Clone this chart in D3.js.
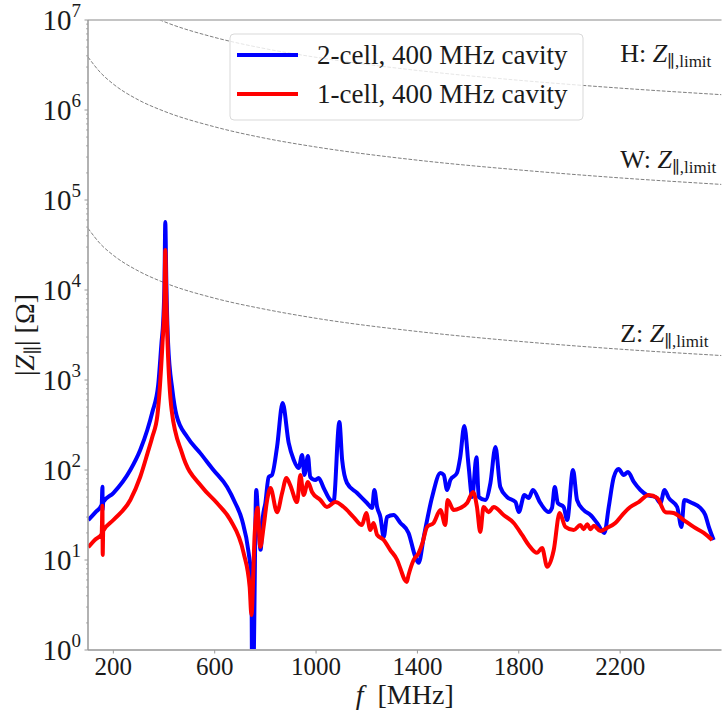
<!DOCTYPE html>
<html>
<head>
<meta charset="utf-8">
<script src="https://d3js.org/d3.v7.min.js"></script>
<style>
  body { margin: 0; background: #fff; }
  text { font-family: "Liberation Serif", "DejaVu Serif", serif; fill: #1a1a1a; }
</style>
</head>
<body>
<svg width="722" height="711"></svg>
<script>
  // |Z| [Ohm] vs f [MHz]
  var cavity2cell = [[101,27.8],[130,34],[154,41],[157,65],[158,36],[160,44],[200,55.5],[267,100],[306,167],[334,278],
    [354,441],[377,880],[390,2580],[397,4640],[402,12900],[405,57000],[409,12900],[416,2580],[433,774],[449,408],
    [491,234],[543,154],[595,100],[649,64.7],[681,43],[708,27.8],[734,12],[745,6],[748,0.3],[752,0.4],
    [764,60],[772,28],[781,13],[790,30],[800,43],[813,83.6],[826,88],[846,180],[868,555],[892,200],
    [912,129],[931,105],[945,147],[954,88],[968,143],[977,83.6],[997,77.4],[1010,81.5],[1030,63.1],[1056,46.4],
    [1069,44.1],[1092,342],[1103,129],[1122,71.7],[1162,55.5],[1201,43],[1221,37.8],[1230,60],[1241,38.8],[1254,30],
    [1267,18],[1280,30],[1306,31.6],[1333,25.8],[1365,20],[1392,10.8],[1405,9.3],[1425,18],[1458,50.1],[1491,92.6],
    [1504,88],[1517,60],[1530,77.4],[1556,92.6],[1569,139],[1585,308],[1602,111],[1616,50.1],[1633,139],[1642,50.1],
    [1668,46.4],[1688,71.7],[1708,180],[1727,64.7],[1754,50.1],[1787,44.1],[1800,34.1],[1822,52.7],[1839,48.9],[1856,60],
    [1885,43],[1918,34.1],[1931,37.8],[1942,64.7],[1954,43],[1977,38.8],[1991,27.8],[2014,100],[2030,46.4],[2056,35.9],
    [2083,31.6],[2109,25.8],[2138,20],[2155,38.8],[2175,83.6],[2194,102.6],[2214,88],[2231,95],[2254,73.6],[2280,60],
    [2306,52.7],[2339,50.1],[2359,43],[2375,60],[2392,48.9],[2425,38.8],[2442,23.3],[2453,46.4],[2484,43],[2517,37.8],
    [2536,31.6],[2550,23.3],[2569,16.7]];

  var cavity1cell = [[101,13.9],[130,17],[154,19.5],[157,40],[158,11.4],[160,21],[200,27.8],[267,46.4],[306,83.6],[335,154],
    [354,234],[374,408],[394,2580],[402,7740],[405,27800],[409,7740],[414,2580],[430,464],[471,154],[550,64.7],
    [609,43],[662,27.8],[714,12],[738,5],[745,2.45],[758,20],[769,38],[780,14],[793,23.3],[807,46.4],
    [820,63],[846,34],[866,55.5],[883,81.5],[898,68],[925,44],[938,88],[951,52.7],[968,73.6],[984,57],
    [1017,46.4],[1043,38.8],[1076,44],[1109,38.8],[1148,30],[1181,24.5],[1198,33.3],[1214,21.5],[1227,25.8],[1241,19],
    [1267,16.7],[1293,12.9],[1320,10],[1333,8],[1350,6],[1358,5.7],[1365,6.8],[1385,10],[1405,12],[1420,15.5],
    [1438,23.3],[1464,25.8],[1491,35.9],[1510,24.5],[1519,46.4],[1543,35.9],[1569,37.8],[1596,43],[1620,57],[1635,38.8],
    [1648,20.5],[1661,38.8],[1681,34],[1701,38.8],[1740,31.6],[1780,25.8],[1813,19],[1839,14.7],[1872,12],[1892,13.6],
    [1912,8.4],[1938,12.9],[1961,33.3],[1984,23.3],[2017,21.5],[2043,24.5],[2056,22],[2070,25],[2083,22],[2096,24],
    [2122,21],[2148,22.7],[2181,25.8],[2208,31.6],[2240,38.8],[2273,44],[2313,52.7],[2346,48.9],[2379,34],[2411,33.3],
    [2451,27.8],[2490,23.3],[2530,20],[2563,16.7]];

  // impedance limits for the three machines
  var limitFreq = [100, 150, 200, 300, 400, 600, 800, 1000, 1400, 1800, 2200, 2600];
  var limitH = [3.85e7, 2.57e7, 1.93e7, 1.28e7, 9.6e6, 6.4e6, 4.8e6, 3.85e6, 2.75e6, 2.14e6, 1.75e6, 1.48e6];
  var limitW = [3.88e6, 2.59e6, 1.94e6, 1.29e6, 9.7e5, 6.5e5, 4.85e5, 3.88e5, 2.77e5, 2.16e5, 1.76e5, 1.49e5];
  var limitZ = [48500, 32300, 24300, 16200, 12100, 8100, 6100, 4850, 3460, 2690, 2200, 1870];
  var limitNames = ["H", "W", "Z"];
  var limitLabelFreq = 2200;
  var limitLabelImp = [3.4e6, 2.27e5, 2650];

  var seriesNames = ["2-cell, 400 MHz cavity", "1-cell, 400 MHz cavity"];
  var xTicks = [200, 600, 1000, 1400, 1800, 2200];
  var yTicks = [1, 10, 100, 1e3, 1e4, 1e5, 1e6, 1e7];

  var svg = d3.select("svg"),
    pLeft = 88, pRight = 721.5, pTop = 20, pBottom = 650;

  var x = d3.scaleLinear().domain([100, 2600]).range([pLeft, pRight]);
  var y = d3.scaleLog().domain([1, 1e7]).range([pBottom, pTop]);

  svg.append("clipPath").attr("id", "plot")
    .append("rect").attr("x", pLeft).attr("y", pTop).attr("width", pRight - pLeft).attr("height", pBottom - pTop);

  var line = d3.line()
    .x(function(d) { return x(d[0]); })
    .y(function(d) { return y(d[1]); })
    .curve(d3.curveMonotoneX);

  // dashed limit curves
  var limits = [limitH, limitW, limitZ];
  var plot = svg.append("g").attr("clip-path", "url(#plot)");
  limits.forEach(function(vals) {
    plot.append("path")
      .datum(limitFreq.map(function(f, i) { return [f, vals[i]]; }))
      .attr("fill", "none").attr("stroke", "#7f7f7f").attr("stroke-width", 1)
      .attr("stroke-dasharray", "3.7,1.6")
      .attr("d", line);
  });

  // cavity impedance curves
  plot.append("path").datum(cavity2cell)
    .attr("fill", "none").attr("stroke", "#0000ff").attr("stroke-width", 4)
    .attr("stroke-linejoin", "round").attr("d", line);
  plot.append("path").datum(cavity1cell)
    .attr("fill", "none").attr("stroke", "#ff0000").attr("stroke-width", 4)
    .attr("stroke-linejoin", "round").attr("d", line);

  // limit labels
  limitNames.forEach(function(n, i) {
    var t = svg.append("text").attr("x", x(limitLabelFreq)).attr("y", y(limitLabelImp[i]))
      .style("font-size", "26px");
    t.append("tspan").text(n + ": ");
    t.append("tspan").style("font-style", "italic").text("Z");
    t.append("tspan").attr("dy", 5).style("font-size", "17px").text("\u2225,limit");
  });

  // spines
  svg.append("line").attr("x1", pLeft).attr("x2", pRight).attr("y1", pTop).attr("y2", pTop)
    .attr("stroke", "#b0b0b0").attr("stroke-width", 1.5);
  svg.append("line").attr("x1", pLeft).attr("x2", pRight).attr("y1", pBottom).attr("y2", pBottom)
    .attr("stroke", "#b0b0b0").attr("stroke-width", 2);
  svg.append("line").attr("x1", pLeft).attr("x2", pLeft).attr("y1", pTop).attr("y2", pBottom)
    .attr("stroke", "#999").attr("stroke-width", 1.5);

  // x axis
  xTicks.forEach(function(v) {
    svg.append("line").attr("x1", x(v)).attr("x2", x(v)).attr("y1", pBottom).attr("y2", pBottom + 3.5)
      .attr("stroke", "#999").attr("stroke-width", 1);
    svg.append("text").attr("x", x(v)).attr("y", pBottom + 25).attr("text-anchor", "middle")
      .style("font-size", "25px").text(v);
  });

  // y axis (log), major + minor ticks
  yTicks.forEach(function(v, i) {
    svg.append("line").attr("x1", pLeft - 3.5).attr("x2", pLeft).attr("y1", y(v)).attr("y2", y(v))
      .attr("stroke", "#999").attr("stroke-width", 1);
    var t = svg.append("text").attr("x", 81).attr("y", y(v) + 10).attr("text-anchor", "end")
      .style("font-size", "29px");
    t.append("tspan").text("10");
    t.append("tspan").attr("dy", -13).style("font-size", "19px").text(i);
    if (i < yTicks.length - 1) {
      for (var k = 2; k < 10; k++) {
        svg.append("line").attr("x1", pLeft - 2).attr("x2", pLeft).attr("y1", y(v * k)).attr("y2", y(v * k))
          .attr("stroke", "#999").attr("stroke-width", 0.8);
      }
    }
  });

  // axis labels
  var xl = svg.append("text").attr("x", (pLeft + pRight) / 2).attr("y", 704).attr("text-anchor", "middle")
    .style("font-size", "28px");
  xl.append("tspan").style("font-style", "italic").text("f");
  xl.append("tspan").text("\u00a0 [MHz]");

  var yl = svg.append("text").attr("transform", "translate(34," + (pTop + pBottom) / 2 + ") rotate(-90)")
    .attr("text-anchor", "middle").style("font-size", "28px");
  yl.append("tspan").text("|");
  yl.append("tspan").style("font-style", "italic").text("Z");
  yl.append("tspan").attr("dy", 5).style("font-size", "19px").text("\u2225");
  yl.append("tspan").attr("dy", -5).text("| [\u03a9]");

  // legend
  var lg = svg.append("g").attr("transform", "translate(230,34)");
  lg.append("rect").attr("width", 353).attr("height", 86).attr("rx", 4)
    .attr("fill", "#fff").attr("fill-opacity", 0.8).attr("stroke", "#d9d9d9").attr("stroke-width", 1);
  var legendColors = ["#0000ff", "#ff0000"];
  seriesNames.forEach(function(s, i) {
    var ly = 21 + i * 39;
    lg.append("line").attr("x1", 7).attr("x2", 68).attr("y1", ly).attr("y2", ly)
      .attr("stroke", legendColors[i]).attr("stroke-width", 4);
    lg.append("text").attr("x", 87).attr("y", ly + 9).style("font-size", "27px").text(s);
  });
</script>
</body>
</html>
